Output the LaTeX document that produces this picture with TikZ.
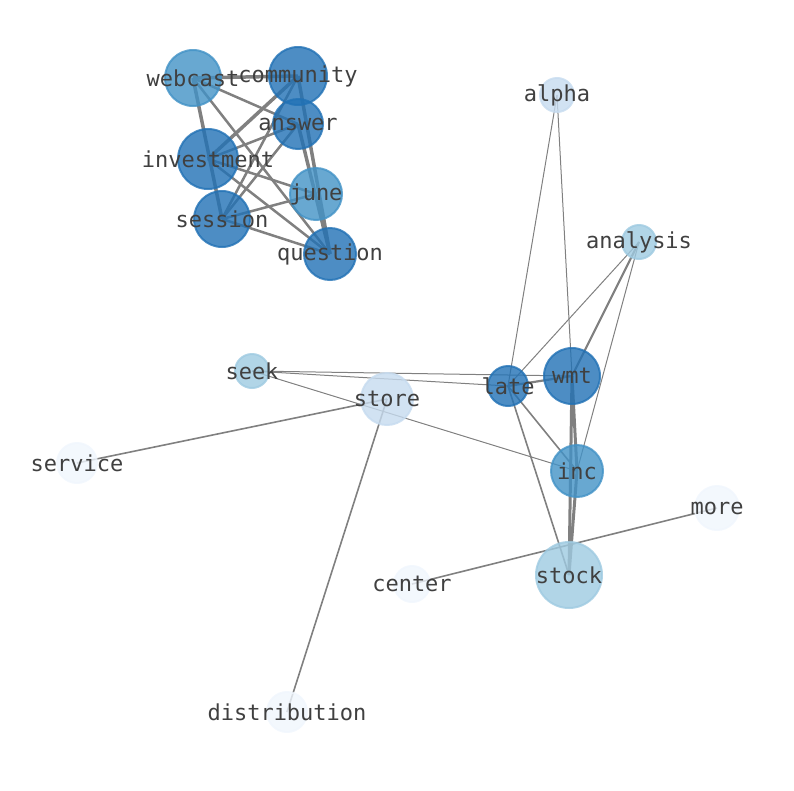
\documentclass[tikz,border=0pt]{standalone}
\usepackage{fontspec}
\setmonofont{DejaVu Sans Mono}
\usetikzlibrary{backgrounds}

\definecolor{bluedark}{RGB}{33,113,181}
\definecolor{bluemid}{RGB}{66,146,198}
\definecolor{bluelight}{RGB}{158,202,225}
\definecolor{bluepale}{RGB}{198,219,239}
\definecolor{bluefaint}{RGB}{240,246,253}

\tikzset{
  word/.style 2 args={circle, fill=#1, draw=#1, line width=2pt, fill opacity=0.8,
    draw opacity=0.8, inner sep=0pt, minimum size=#2},
  every label/.style={font=\ttfamily\fontsize{22}{26}\selectfont, text=black!75,
    inner sep=0pt, fill opacity=1, text opacity=1},
  link/.style={draw=gray, line width=#1},
}

\begin{document}
\begin{tikzpicture}[x=1pt, y=-1pt]
  \useasboundingbox (0,0) rectangle (794,790);

  % premier groupe
  \node[word={bluemid}{56pt}, label=center:webcast] (webcast) at (193,78) {};
  \node[word={bluedark}{58pt}, label=center:community] (community) at (298,76) {};
  \node[word={bluedark}{50pt}, label=center:answer] (answer) at (298,124) {};
  \node[word={bluedark}{60pt}, label=center:investment] (investment) at (208,159) {};
  \node[word={bluemid}{52pt}, label=center:june] (june) at (316,194) {};
  \node[word={bluedark}{56pt}, label=center:session] (session) at (222,219) {};
  \node[word={bluedark}{52pt}, label=center:question] (question) at (330,254) {};

  % second groupe
  \node[word={bluepale}{34pt}, label=center:alpha] (alpha) at (557,95) {};
  \node[word={bluelight}{34pt}, label=center:analysis] (analysis) at (639,242) {};
  \node[word={bluelight}{34pt}, label=center:seek] (seek) at (252,371) {};
  \node[word={bluepale}{52pt}, label=center:store] (store) at (387,399) {};
  \node[word={bluedark}{40pt}, label=center:late] (late) at (508,386) {};
  \node[word={bluedark}{56pt}, label=center:wmt] (wmt) at (572,376) {};
  \node[word={bluemid}{52pt}, label=center:inc] (inc) at (577,471) {};
  \node[word={bluelight}{66pt}, label=center:stock] (stock) at (569,575) {};
  \node[word={bluefaint}{40pt}, label=center:service] (service) at (77,463) {};
  \node[word={bluefaint}{36pt}, label=center:center] (center) at (412,584) {};
  \node[word={bluefaint}{44pt}, label=center:more] (more) at (717,508) {};
  \node[word={bluefaint}{40pt}, label=center:distribution] (distribution) at (287,712) {};

  % Arêtes sous les noeuds
  \begin{pgfonlayer}{background}
    \path[link=3.5pt] (webcast.center) edge (community.center)
                      (webcast.center) edge (session.center)
                      (community.center) edge (investment.center)
                      (community.center) edge (question.center)
                      (answer.center) edge (question.center);
    \path[link=2.5pt] (webcast.center) edge (answer.center)
                      (webcast.center) edge (question.center)
                      (community.center) edge (session.center)
                      (answer.center) edge (investment.center)
                      (answer.center) edge (session.center)
                      (investment.center) edge (june.center)
                      (investment.center) edge (question.center)
                      (session.center) edge (june.center)
                      (session.center) edge (question.center);

    \path[link=1pt] (alpha.center) edge (late.center)
                    (alpha.center) edge (wmt.center)
                    (analysis.center) edge (late.center)
                    (analysis.center) edge (inc.center)
                    (seek.center) edge (late.center)
                    (seek.center) edge (wmt.center)
                    (seek.center) edge (inc.center);
    \path[link=1.6pt] (store.center) edge (service.center)
                      (store.center) edge (distribution.center)
                      (center.center) edge (more.center)
                      (late.center) edge (stock.center)
                      (late.center) edge (inc.center);
    \path[link=2.2pt] (analysis.center) edge (wmt.center)
                      (late.center) edge (wmt.center);
    \path[link=3pt] (wmt.center) edge (inc.center)
                    (wmt.center) edge (stock.center)
                    (inc.center) edge (stock.center);
  \end{pgfonlayer}
\end{tikzpicture}
\end{document}
